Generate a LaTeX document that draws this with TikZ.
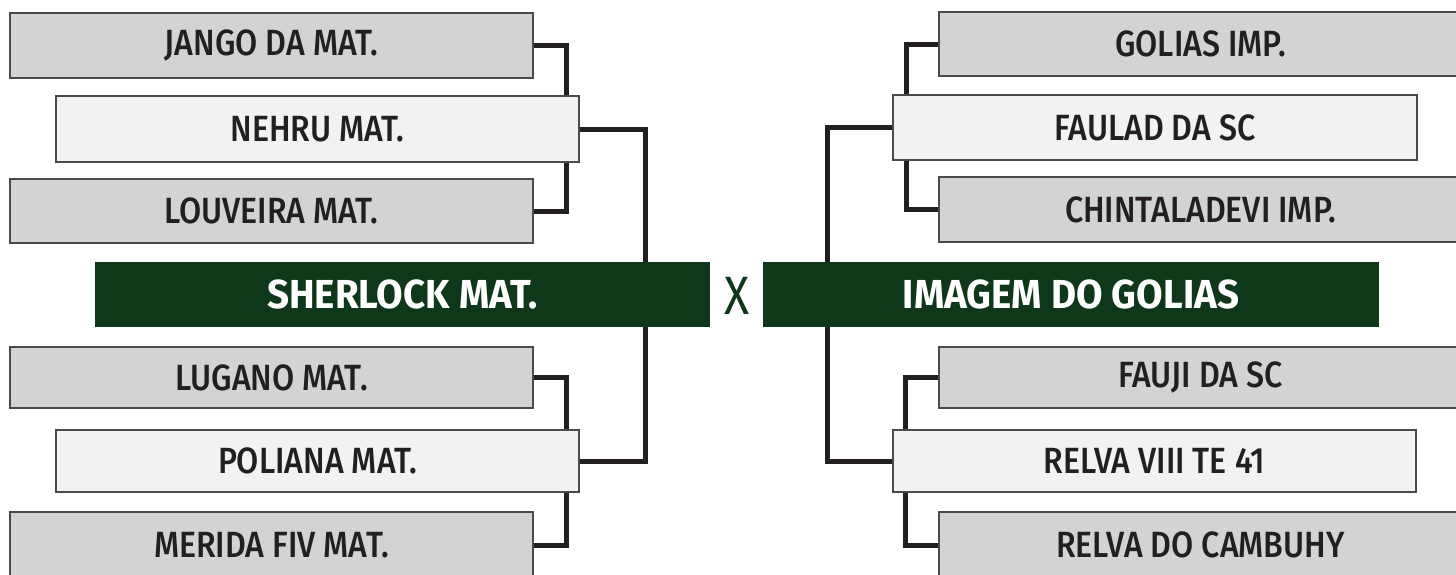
\documentclass[tikz,border=0pt]{standalone}
\usepackage{fontspec}
\setmainfont{Fira Sans}
\newfontfamily\boxfont[FakeStretch=0.88]{Fira Sans Medium}
\newfontfamily\bigfont[FakeStretch=0.95]{Fira Sans}
\newfontfamily\xfont[FakeStretch=0.86]{Fira Sans}
\usetikzlibrary{calc}
\definecolor{grayfill}{HTML}{D1D3D4}
\definecolor{lightfill}{HTML}{F1F2F4}
\definecolor{boxline}{HTML}{4A4A4C}
\definecolor{dkgreen}{HTML}{0F381B}
\definecolor{txt}{HTML}{231F20}
\definecolor{connc}{HTML}{231F20}
\tikzset{
  base/.style={draw=boxline, line width=1.2pt, inner sep=0pt, minimum width=523pt,
    text=txt, font=\boxfont\fontsize{36.5}{36.5}\selectfont},
  graybox/.style={base, fill=grayfill},
  lightbox/.style={base, fill=lightfill},
  greenbox/.style={fill=dkgreen, inner sep=0pt, minimum width=615pt, minimum height=65pt,
    text=white, font=\bigfont\bfseries\fontsize{40.5}{40.5}\selectfont},
  conn/.style={draw=connc, line width=5pt, line join=miter}
}
\begin{document}
\begin{tikzpicture}[x=1pt,y=-1pt]
\useasboundingbox (0,0) rectangle (1456,574);
\clip (0,0) rectangle (1456,574);
% left side
\node[graybox, minimum height=65pt] (jango) at (271.5,45.5) {JANGO DA MAT.};
\node[lightbox, minimum height=66pt] (nehru) at (317.5,129) {NEHRU MAT.};
\node[graybox, minimum height=64pt] (louveira) at (271.5,211) {LOUVEIRA MAT.};
\node[greenbox] (sherlock) at (402.5,294.5) {SHERLOCK MAT.};
\node[graybox, minimum height=61pt] (lugano) at (271.5,377.5) {LUGANO MAT.};
\node[lightbox, minimum height=62pt] (poliana) at (317.5,461) {POLIANA MAT.};
\node[graybox, minimum height=66pt] (merida) at (271.5,545) {MERIDA FIV MAT.};
% right side
\node[graybox, minimum height=64pt] (golias) at (1200.5,44) {GOLIAS IMP.};
\node[lightbox, minimum height=65pt, minimum width=524pt] (faulad) at (1155,127.5) {FAULAD DA SC};
\node[graybox, minimum height=65pt] (chinta) at (1200.5,209.5) {CHINTALADEVI IMP.};
\node[greenbox, minimum width=616pt] (imagem) at (1071,294.5) {IMAGEM DO GOLIAS};
\node[graybox, minimum height=61pt] (fauji) at (1200.5,377.5) {FAUJI DA SC};
\node[lightbox, minimum height=62pt] (relva8) at (1154.5,461) {RELVA VIII TE 41};
\node[graybox, minimum height=66pt] (relvac) at (1200.5,545) {RELVA DO CAMBUHY};
% vs
\node[inner sep=0pt, text=dkgreen, font=\xfont\fontsize{54}{54}\selectfont] (vs) at (737,296) {X};
% connector columns
\coordinate (lcol) at (645,0);
\coordinate (rcol) at (827,0);
% left connectors
\draw[conn] (jango.east) -| ($(nehru.north east)+(-13,0)$);
\draw[conn] (louveira.east) -| ($(nehru.south east)+(-13,0)$);
\draw[conn] (nehru.east) -| (lcol |- sherlock.north);
\draw[conn] (lugano.east) -| ($(poliana.north east)+(-13,0)$);
\draw[conn] (merida.east) -| ($(poliana.south east)+(-13,0)$);
\draw[conn] (poliana.east) -| (lcol |- sherlock.south);
% right connectors
\draw[conn] (golias.west) -| ($(faulad.north west)+(14,0)$);
\draw[conn] (chinta.west) -| ($(faulad.south west)+(14,0)$);
\draw[conn] (faulad.west) -| (rcol |- imagem.north);
\draw[conn] (fauji.west) -| ($(relva8.north west)+(13,0)$);
\draw[conn] (relvac.west) -| ($(relva8.south west)+(13,0)$);
\draw[conn] (relva8.west) -| (rcol |- imagem.south);
\end{tikzpicture}
\end{document}
